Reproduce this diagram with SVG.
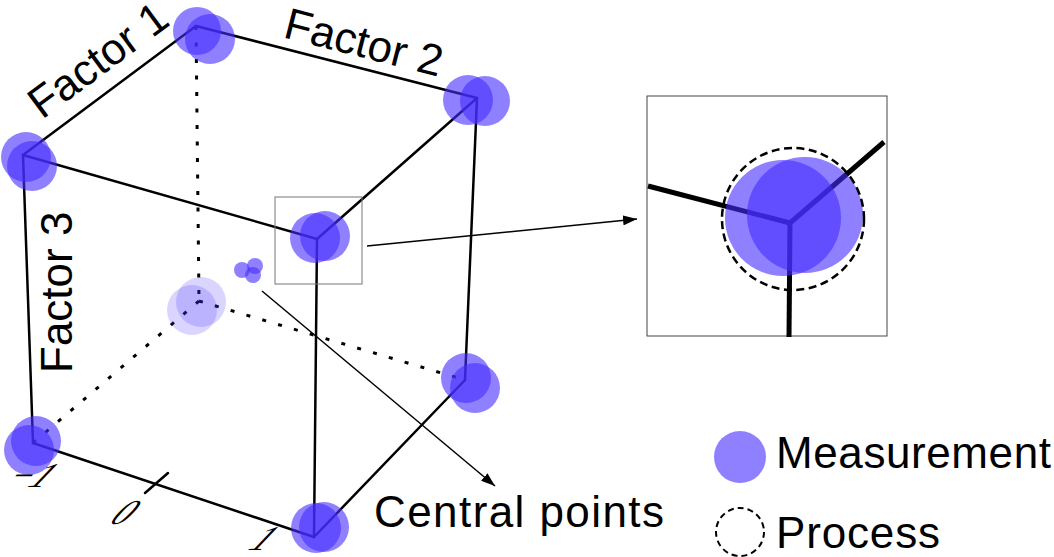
<svg xmlns="http://www.w3.org/2000/svg" width="1054" height="557" viewBox="0 0 1054 557">
<defs>
<style>
.e{stroke:#000;stroke-width:2.5;fill:none;stroke-linecap:round}
.d{stroke:#000;stroke-width:3;fill:none;stroke-dasharray:4 12.5}
.a{stroke:#000;stroke-width:1.5;fill:none}
.m{fill:#442bff;fill-opacity:0.6}
.g{fill:#442bff;fill-opacity:0.2}
.t{font-family:"Liberation Sans","DejaVu Sans",sans-serif;font-size:44px;fill:#000}
.k{font-family:"Liberation Serif","DejaVu Serif",serif;font-style:italic;font-size:35px;fill:#000}
.ins{stroke:#000;stroke-width:5;fill:none}
</style>
<marker id="ah" viewBox="0 0 14 10" refX="14" refY="5" markerWidth="14" markerHeight="10" markerUnits="userSpaceOnUse" orient="auto">
<path d="M0,0 L14,5 L0,10 z" fill="#000"/>
</marker>
</defs>
<rect width="1054" height="557" fill="#fff"/>
<g id="connectors">
<line class="d" x1="196" y1="26" x2="199" y2="301"/>
<line class="d" x1="199" y1="301" x2="33" y2="443"/>
<line class="d" x1="199" y1="301" x2="465" y2="380"/>
<line class="e" x1="196" y1="26" x2="23" y2="155"/>
<line class="e" x1="196" y1="26" x2="477" y2="98"/>
<line class="e" x1="23" y1="155" x2="317" y2="239"/>
<line class="e" x1="477" y1="98" x2="317" y2="239"/>
<line class="e" x1="23" y1="155" x2="33" y2="443"/>
<line class="e" x1="317" y1="239" x2="314" y2="537"/>
<line class="e" x1="477" y1="98" x2="465" y2="380"/>
<line class="e" x1="33" y1="443" x2="314" y2="537"/>
<line class="e" x1="314" y1="537" x2="465" y2="380"/>
<line class="e" x1="145" y1="493" x2="168" y2="473"/>
<line class="a" x1="367" y1="246" x2="637" y2="219" marker-end="url(#ah)"/>
<line class="a" x1="262" y1="291" x2="495" y2="486" marker-end="url(#ah)"/>
</g>
<g id="v-top-back"><circle class="m" cx="197" cy="31" r="24"/><circle class="m" cx="210" cy="39" r="25"/></g>
<g id="v-top-right"><circle class="m" cx="468" cy="100" r="25"/><circle class="m" cx="485" cy="101" r="25"/></g>
<g id="v-top-left"><circle class="m" cx="26" cy="157" r="25"/><circle class="m" cx="32" cy="166" r="25"/></g>
<g id="v-top-front"><circle class="m" cx="315" cy="238" r="25"/><circle class="m" cx="325" cy="236" r="25"/></g>
<g id="v-bottom-left"><circle class="m" cx="36" cy="441" r="25"/><circle class="m" cx="29" cy="450" r="25"/></g>
<g id="v-bottom-front"><circle class="m" cx="316" cy="528" r="25"/><circle class="m" cx="324" cy="527" r="25"/></g>
<g id="v-bottom-right"><circle class="m" cx="466" cy="378" r="25"/><circle class="m" cx="475" cy="388" r="25"/></g>
<g id="v-bottom-back"><circle class="g" cx="201" cy="302" r="25"/><circle class="g" cx="192" cy="310" r="25"/></g>
<g id="central-points"><circle class="m" cx="242" cy="270" r="8"/><circle class="m" cx="255" cy="266" r="8"/><circle class="m" cx="253" cy="275" r="8"/></g>
<g id="zoom-box"><rect x="275" y="197" width="87" height="87" fill="none" stroke="#777" stroke-width="1"/></g>
<g id="inset">
<rect x="647" y="96" width="240" height="240" fill="none" stroke="#444" stroke-width="1"/>
<line class="ins" x1="790" y1="223" x2="648" y2="186"/>
<line class="ins" x1="790" y1="223" x2="884" y2="142"/>
<line class="ins" x1="790" y1="221" x2="789" y2="337"/>
<circle class="m" cx="783" cy="218" r="58"/>
<circle class="m" cx="805" cy="215" r="58"/>
<circle cx="793" cy="219" r="71" fill="none" stroke="#000" stroke-width="2.5" stroke-dasharray="8 4.5"/>
</g>
<g id="labels">
<text class="t" transform="translate(42,120) rotate(-36.5)">Factor 1</text>
<text class="t" transform="translate(282,37) rotate(14.3)">Factor 2</text>
<text class="t" transform="translate(72,373) rotate(-90)">Factor 3</text>
<text class="t" x="374" y="527" textLength="290">Central points</text>
<text class="k" transform="translate(3,487) skewX(-38)">−1</text>
<text class="k" transform="translate(108,524) skewX(-38)">0</text>
<text class="k" transform="translate(247,550) skewX(-38)">1</text>
</g>
<g id="legend-measurement"><circle class="m" cx="740" cy="457" r="26"/><text class="t" x="776" y="468" textLength="275">Measurement</text></g>
<g id="legend-process"><circle cx="740" cy="532" r="24" fill="none" stroke="#000" stroke-width="2" stroke-dasharray="6 4"/><text class="t" x="776" y="548" textLength="164">Process</text></g>
</svg>
